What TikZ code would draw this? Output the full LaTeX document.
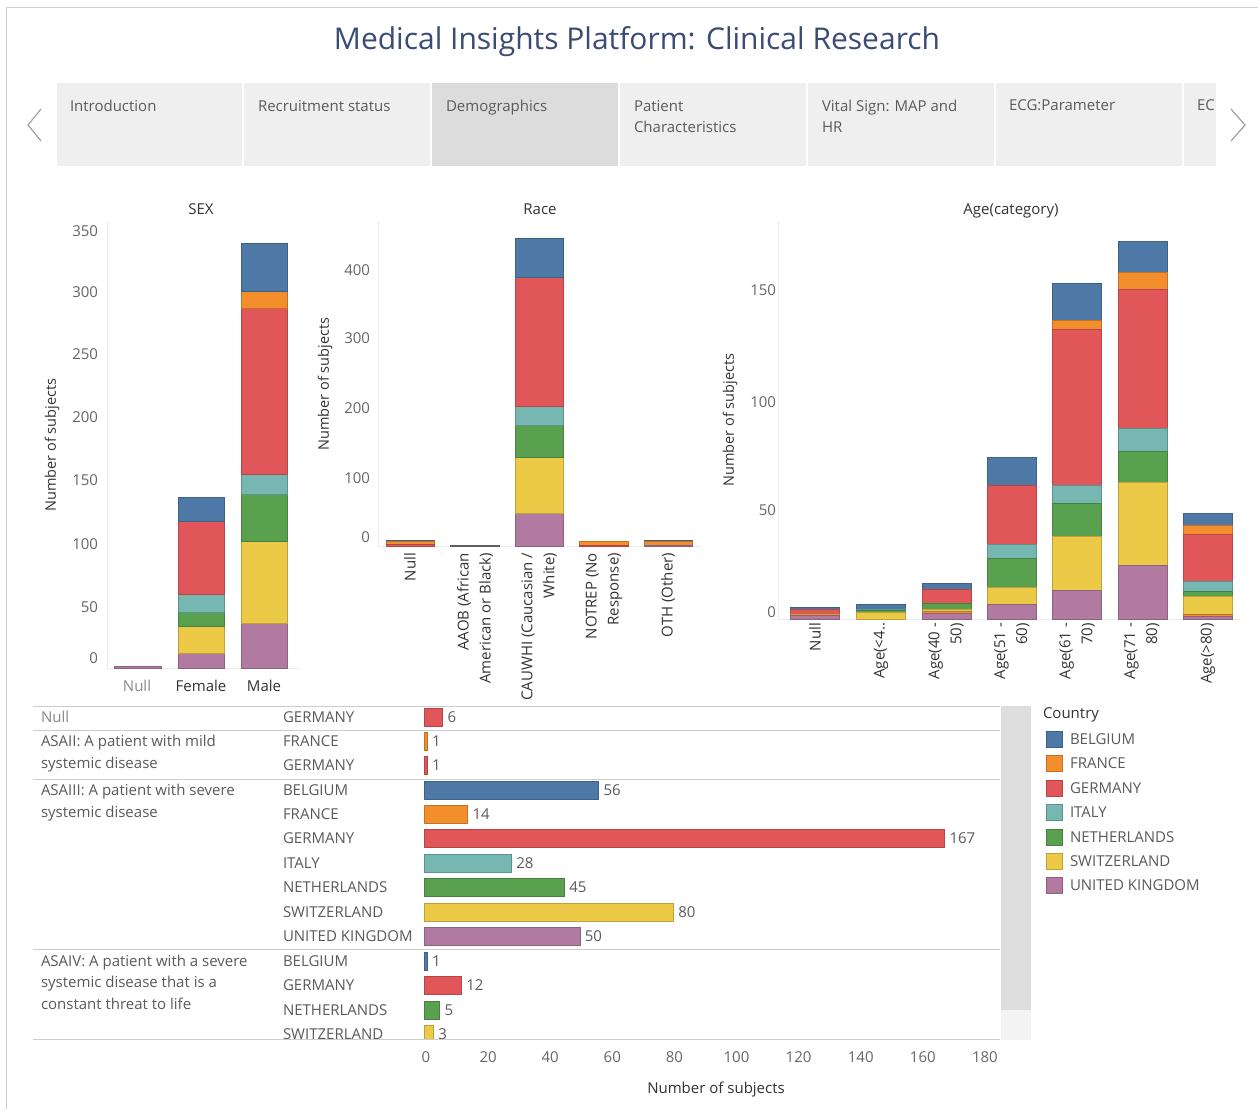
\documentclass[tikz,border=0pt]{standalone}
\usepackage{fontspec}
\setmainfont{Open Sans}
\definecolor{cBE}{HTML}{4E79A7}
\definecolor{cFR}{HTML}{F28E2B}
\definecolor{cDE}{HTML}{E15759}
\definecolor{cIT}{HTML}{76B7B2}
\definecolor{cNL}{HTML}{59A14F}
\definecolor{cCH}{HTML}{EDC948}
\definecolor{cUK}{HTML}{B07AA1}
\definecolor{cGR}{HTML}{777777}
\definecolor{titlec}{HTML}{3A4C75}
\definecolor{tabbg}{HTML}{EFEFEF}
\definecolor{tabsel}{HTML}{DCDCDC}
\definecolor{tabtxt}{HTML}{5A5A5A}
\definecolor{ticktxt}{HTML}{666666}
\definecolor{labtxt}{HTML}{333333}
\definecolor{lighttxt}{HTML}{8A8A8A}
\definecolor{rulec}{HTML}{CDCDCD}
\definecolor{faint}{HTML}{EBEBEB}
\definecolor{scrollbg}{HTML}{DEDEDE}
\definecolor{scrolllt}{HTML}{F3F3F3}
\definecolor{framec}{HTML}{CFCFCF}
\newcommand\barseg[5]{\path[seg=#5] (#1,#3) rectangle (#2,#4);}
\begin{document}
\begin{tikzpicture}[x=1pt,y=-1pt,
  every node/.style={inner sep=0pt,outer sep=0pt},
  seg/.style={fill=#1,draw=#1!80!black,line width=0.6pt},
  tabt/.style={anchor=north west,align=left,font=\fontsize{15}{21}\selectfont,text=tabtxt},
  tick/.style={anchor=east,font=\fontsize{15}{18}\selectfont,text=ticktxt},
  ctitle/.style={font=\fontsize{15}{18}\selectfont,text=labtxt},
  ylab/.style={rotate=90,font=\fontsize{14.5}{18}\selectfont,text=labtxt},
  xlab/.style={font=\fontsize{15}{18}\selectfont,text=labtxt},
  rlab/.style={rotate=90,anchor=east,align=right,font=\fontsize{15}{22}\selectfont,text=labtxt},
  tcell/.style={font=\fontsize{15}{22}\selectfont,text=tabtxt},
  rulel/.style={draw=rulec,line width=1pt},
  faintl/.style={draw=faint,line width=0.8pt},
  chev/.style={draw=cGR!70,line width=1.2pt,line join=miter}]
\useasboundingbox (0,0) rectangle (1258,1109);
\fill[white] (0,0) rectangle (1258,1109);
% frame
\draw[draw=framec,line width=1pt] (6,1109) -- (6,7) -- (1258,7);
% title
\node[anchor=base,font=\fontsize{30}{36}\selectfont,text=titlec] (title) at (637,49) {Medical Insights Platform: Clinical Research};
% tabs
\begin{scope}
\clip (57,83) rectangle (1216,166);
\fill[tabbg] (57,83) rectangle (242,166);
\fill[tabbg] (244,83) rectangle (430,166);
\fill[tabsel] (432,83) rectangle (618,166);
\fill[tabbg] (620,83) rectangle (806,166);
\fill[tabbg] (808,83) rectangle (994,166);
\fill[tabbg] (996,83) rectangle (1182,166);
\fill[tabbg] (1184,83) rectangle (1216,166);
\node[tabt] (tab1) at (70,100) {Introduction};
\node[tabt] (tab2) at (258,100) {Recruitment status};
\node[tabt] (tab3) at (446,100) {Demographics};
\node[tabt] (tab4) at (634,100) {Patient\\Characteristics};
\node[tabt] (tab5) at (822,100) {Vital Sign: MAP and\\HR};
\node[tabt] (tab6) at (1009,100) {ECG:Parameter};
\node[tabt] (tab7) at (1197,100) {EC};
\end{scope}
\draw[chev] (41,109) -- (28,125) -- (41,141);
\draw[chev] (1231,109) -- (1245,125) -- (1231,141);

% ================= SEX chart
\draw[faintl] (107,222) -- (107,668) -- (300,668);
\node[ctitle] (sexT) at (201,209) {SEX};
\node[ylab] (sexY) at (52,445) {Number of subjects};
\foreach \v/\yy in {350/231,300/292,250/354,200/417,150/480,100/544,50/607,0/658}
  {\node[tick] (sexk\v) at (98,\yy) {\v};}
\barseg{114}{161}{666}{668}{cUK}
\foreach \ta/\tb/\tc in {653/668/cUK,626/653/cCH,612/626/cNL,594/612/cIT,521/594/cDE,497/521/cBE}
  {\barseg{178}{224}{\ta}{\tb}{\tc}}
\foreach \ta/\tb/\tc in {623/668/cUK,541/623/cCH,494/541/cNL,474/494/cIT,308/474/cDE,291/308/cFR,243/291/cBE}
  {\barseg{241}{287}{\ta}{\tb}{\tc}}
\node[xlab,text=lighttxt] (sexNull) at (137,686) {Null};
\node[xlab] (sexF) at (201,686) {Female};
\node[xlab] (sexM) at (264,686) {Male};

% ================= Race chart
\draw[faintl] (378,222) -- (378,546) -- (700,546);
\node[ctitle] (raceT) at (540,209) {Race};
\node[ylab] (raceY) at (325,384) {Number of subjects};
\foreach \v/\yy in {400/270,300/338,200/408,100/478,0/537}
  {\node[tick] (racek\v) at (370,\yy) {\v};}
\barseg{386}{434}{540.5}{541.5}{cBE}
\barseg{386}{434}{541.5}{544}{cFR}
\barseg{386}{434}{544}{546}{cDE}
\barseg{450}{499}{545}{546}{cGR}
\foreach \ta/\tb/\tc in {513/546/cUK,457/513/cCH,425/457/cNL,406/425/cIT,277/406/cDE,238/277/cBE}
  {\barseg{515}{563}{\ta}{\tb}{\tc}}
\barseg{579}{628}{541.5}{545}{cFR}
\barseg{579}{628}{545}{546}{cDE}
\barseg{644}{692}{540}{541}{cBE}
\barseg{644}{692}{541}{545}{cFR}
\barseg{644}{692}{545}{546}{cUK}
\node[rlab] (raceL1) at (410,553) {Null};
\node[rlab] (raceL2) at (475,553) {AAOB (African\\American or Black)};
\node[rlab] (raceL3) at (539,553) {CAUWHI (Caucasian /\\White)};
\node[rlab] (raceL4) at (604,553) {NOTREP (No\\Response)};
\node[rlab] (raceL5) at (668,553) {OTH (Other)};

% ================= Age chart
\draw[faintl] (778,222) -- (778,619) -- (1240,619);
\node[ctitle,anchor=base] (ageT) at (1011,214) {Age(category)};
\node[ylab] (ageY) at (730,420) {Number of subjects};
\foreach \v/\yy in {150/290,100/402,50/510,0/612}
  {\node[tick] (agek\v) at (776,\yy) {\v};}
\foreach \ta/\tb/\tc in {607/609.5/cBE,609.5/613/cDE,613/615.5/cFR,615.5/619/cUK}
  {\barseg{790}{839}{\ta}{\tb}{\tc}}
\foreach \ta/\tb/\tc in {604/609.5/cBE,609.5/610.5/cIT,610.5/612/cNL,612/619/cCH}
  {\barseg{856}{905}{\ta}{\tb}{\tc}}
\foreach \ta/\tb/\tc in {583/589/cBE,589/603/cDE,603/609.5/cNL,609.5/611/cCH,611/613/cFR,613/619/cUK}
  {\barseg{922}{971}{\ta}{\tb}{\tc}}
\foreach \ta/\tb/\tc in {457/485/cBE,485/544/cDE,544/558/cIT,558/587/cNL,587/604/cCH,604/619/cUK}
  {\barseg{987}{1036}{\ta}{\tb}{\tc}}
\foreach \ta/\tb/\tc in {283/320/cBE,320/329/cFR,329/485/cDE,485/503/cIT,503/536/cNL,536/590/cCH,590/619/cUK}
  {\barseg{1052}{1101}{\ta}{\tb}{\tc}}
\foreach \ta/\tb/\tc in {241/272/cBE,272/289/cFR,289/428/cDE,428/451/cIT,451/482/cNL,482/565/cCH,565/619/cUK}
  {\barseg{1118}{1167}{\ta}{\tb}{\tc}}
\foreach \ta/\tb/\tc in {513/525/cBE,525/534/cFR,534/581/cDE,581/591/cIT,591/596/cNL,596/614/cCH,614/616/cFR,616/619/cUK}
  {\barseg{1183}{1232}{\ta}{\tb}{\tc}}
\node[rlab] (ageL1) at (815,623) {Null};
\node[rlab] (ageL2) at (881,623) {Age(<4..};
\node[rlab] (ageL3) at (946,623) {Age(40 -\\50)};
\node[rlab] (ageL4) at (1012,623) {Age(51 -\\60)};
\node[rlab] (ageL5) at (1077,623) {Age(61 -\\70)};
\node[rlab] (ageL6) at (1142,623) {Age(71 -\\80)};
\node[rlab] (ageL7) at (1208,623) {Age(>80)};

% ================= Table
\fill[scrollbg] (1001,706) rectangle (1031,1010);
\fill[scrolllt] (1001,1010) rectangle (1031,1040);
\begin{scope}
\clip (33,706) rectangle (1000,1039);
\node[tcell,anchor=west,text=lighttxt] (asaN) at (41,717) {Null};
\node[tcell,anchor=north west,align=left] (asa2) at (41,735) {ASAII: A patient with mild\\systemic disease};
\node[tcell,anchor=north west,align=left] (asa3) at (41,784) {ASAIII: A patient with severe\\systemic disease};
\node[tcell,anchor=north west,align=left,font=\fontsize{15}{21.5}\selectfont] (asa4) at (41,955) {ASAIV: A patient with a severe\\systemic disease that is a\\constant threat to life};
\foreach \yy/\nm/\v/\tc [count=\i] in {717/GERMANY/6/cDE,741/FRANCE/1/cFR,765/GERMANY/1/cDE,790/BELGIUM/56/cBE,814/FRANCE/14/cFR,838/GERMANY/167/cDE,863/ITALY/28/cIT,887/NETHERLANDS/45/cNL,912/SWITZERLAND/80/cCH,936/UNITED KINGDOM/50/cUK,961/BELGIUM/1/cBE,985/GERMANY/12/cDE,1010/NETHERLANDS/5/cNL,1034/SWITZERLAND/3/cCH}{
  \node[tcell,anchor=west] (cty\i) at (283,\yy) {\nm};
  \path[seg=\tc] (424,\yy-9) rectangle ({424+3.117*\v},\yy+9);
  \node[tcell,anchor=west] (val\i) at ({424+3.117*\v+5},\yy) {\v};
}
\end{scope}
\foreach \yy in {706,730,779,949,1039}
  {\draw[rulel] (33,\yy) -- (1000,\yy);}
\foreach \v in {0,20,...,180}
  {\node[tick,anchor=center] (axk\v) at ({426+3.105*\v},1057) {\v};}
\node[xlab] (axT) at (716,1090) {Number of subjects};

% ================= Legend
\node[xlab,anchor=west] (legT) at (1043,715) {Country};
\foreach \yy/\nm/\tc [count=\i] in {739/BELGIUM/cBE,763/FRANCE/cFR,788/GERMANY/cDE,812/ITALY/cIT,837/NETHERLANDS/cNL,861/SWITZERLAND/cCH,885/UNITED KINGDOM/cUK}{
  \path[seg=\tc] (1046,\yy-8) rectangle (1062,\yy+8);
  \node[tcell,anchor=west] (leg\i) at (1070,\yy) {\nm};
}
\end{tikzpicture}
\end{document}
